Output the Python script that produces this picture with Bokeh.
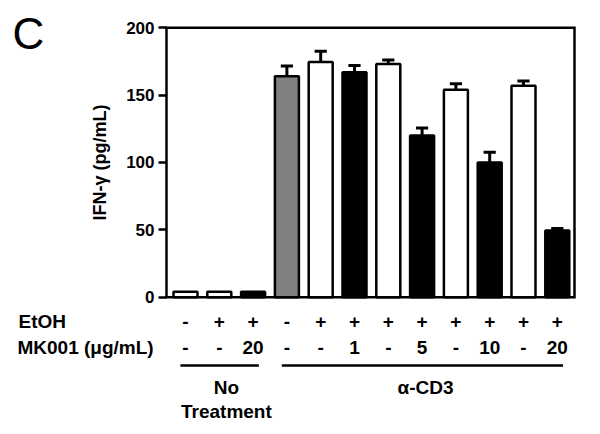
from bokeh.plotting import figure
from bokeh.models import Range1d, FixedTicker, LinearAxis
from bokeh.embed import file_html
from bokeh.resources import INLINE
from bokeh.core.properties import value

# ---- data ----
positions = [1, 2, 3, 4, 5, 6, 7, 8, 9, 10, 11, 12]
ifn_mean = [4, 4, 4, 164, 174.5, 167, 173, 120, 154, 100, 157, 49.5]
ifn_err = [0, 0, 0, 7.5, 8, 5, 3, 5.5, 4.5, 7.5, 3.5, 1.5]
bar_colors = ["white", "white", "black", "#808080", "white", "black",
              "white", "black", "white", "black", "white", "black"]
etoh = ["-", "+", "+", "-", "+", "+", "+", "+", "+", "+", "+", "+"]
mk001 = ["-", "-", "20", "-", "-", "1", "-", "5", "-", "10", "-", "20"]
row_labels = ["EtOH", "MK001 (μg/mL)"]
y_ticks = [0, 50, 100, 150, 200]
group_names = ["No\nTreatment", "α-CD3"]
group_first = [1, 4]
group_last = [3, 12]

# ---- layout constants ----
FONT = "Liberation Sans"
PX = 33.8                      # pixels per category step
X0 = 0.438                     # data x of the y axis
XL = X0 - 166 / PX             # left edge of canvas
XR = X0 + 434 / PX             # right edge of canvas
BOX_RIGHT = 12.509
Y_TOP, Y_BOT = 220.2, -101.9
ROW_ETOH = -18.4
ROW_MK = -37.0
ROW_LINE = -50.6
ROW_GROUP = -67.0

p = figure(width=600, height=434,
           x_range=Range1d(XL, XR), y_range=Range1d(Y_BOT, Y_TOP),
           output_backend="svg", toolbar_location=None,
           x_axis_location=None, y_axis_location=None,
           min_border_left=0, min_border_right=0,
           min_border_top=0, min_border_bottom=0)
p.grid.visible = False
p.outline_line_color = None
p.background_fill_color = "white"
p.border_fill_color = "white"

# y axis drawn at a fixed data location
ax = LinearAxis(fixed_location=X0, bounds=(0, 200),
                ticker=FixedTicker(ticks=y_ticks))
ax.minor_tick_line_color = None
ax.major_tick_in = 0
ax.major_tick_out = 8
ax.major_tick_line_width = 2.5
ax.axis_line_width = 2.5
ax.major_label_standoff = 4
ax.major_label_text_font = FONT
ax.major_label_text_font_style = "bold"
ax.major_label_text_font_size = "17px"
ax.major_label_text_color = "black"
ax.axis_label = "IFN-γ (pg/mL)"
ax.axis_label_text_font = FONT
ax.axis_label_text_font_style = "bold"
ax.axis_label_text_font_size = "18px"
ax.axis_label_text_color = "black"
ax.axis_label_standoff = 13
p.add_layout(ax, "left")

# frame box (top, right, bottom)
p.line(x=[X0 - 0.04, BOX_RIGHT, BOX_RIGHT, X0 - 0.04], y=[200, 200, 0, 0],
       line_color="black", line_width=2.5, line_join="miter")

# error bars
ex, etop, ebot = [], [], []
for x, m, e in zip(positions, ifn_mean, ifn_err):
    if e > 0:
        ex.append(x)
        ebot.append(m)
        etop.append(m + e)
p.segment(x0=ex, y0=ebot, x1=ex, y1=etop, line_color="black", line_width=3)
p.segment(x0=[x - 0.18 for x in ex], y0=etop, x1=[x + 0.18 for x in ex], y1=etop,
          line_color="black", line_width=3)

# bars
p.vbar(x=positions, top=ifn_mean, bottom=0, width=0.71,
       fill_color=bar_colors, line_color="black", line_width=2.5)

# table rows
txt = dict(text_font=value(FONT), text_font_style="bold", text_font_size="19px",
           text_align="center", text_baseline="middle", text_color="black")
p.text(x=positions, y=[ROW_ETOH] * len(positions), text=etoh, **txt)
p.text(x=positions, y=[ROW_MK] * len(positions), text=mk001, **txt)

# row labels on the left
p.text(x=[X0 - 148 / PX, X0 - 149 / PX], y=[ROW_ETOH, ROW_MK], text=row_labels,
       **{**txt, "text_align": "left"})

# group lines and names
p.segment(x0=[g - 0.15 for g in group_first], y0=[ROW_LINE] * 2,
          x1=[g + 0.17 for g in group_last], y1=[ROW_LINE] * 2,
          line_color="black", line_width=2.5)
group_centers = [2.21, 8.10]
p.text(x=group_centers, y=[ROW_GROUP] * 2, text=group_names,
       text_line_height=1.1, **{**txt, "text_baseline": "top"}, y_offset=-10)

# panel letter
p.text(x=[X0 - 154 / PX], y=[195.7], text=["C"],
       text_font=value(FONT), text_font_size="44px",
       text_align="left", text_baseline="middle", text_color="black")

open("out.html", "w").write(file_html(p, INLINE))
